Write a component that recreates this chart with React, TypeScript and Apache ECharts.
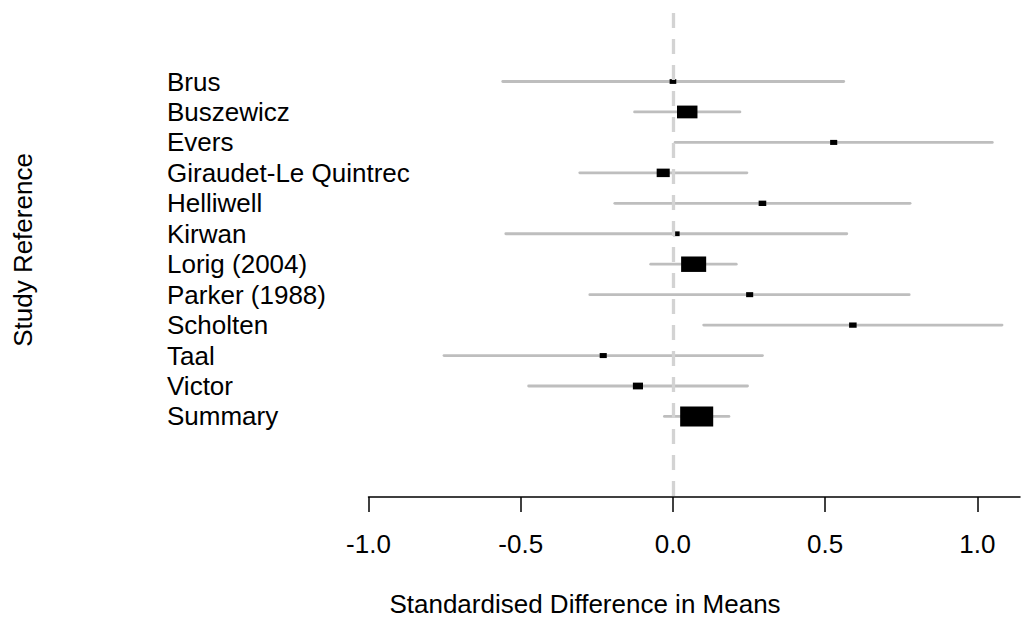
import React, { useEffect, useRef } from "react";
import * as echarts from "echarts";

// ---- data ----
const studies = [
  "Brus",
  "Buszewicz",
  "Evers",
  "Giraudet-Le Quintrec",
  "Helliwell",
  "Kirwan",
  "Lorig (2004)",
  "Parker (1988)",
  "Scholten",
  "Taal",
  "Victor",
  "Summary",
];
const estimates = [0.0, 0.047, 0.528, -0.032, 0.294, 0.011, 0.068, 0.252, 0.591, -0.229, -0.115, 0.078];
const lowerCI = [-0.559, -0.126, 0.007, -0.306, -0.191, -0.549, -0.073, -0.273, 0.101, -0.752, -0.474, -0.028];
const upperCI = [0.561, 0.22, 1.049, 0.243, 0.779, 0.571, 0.208, 0.776, 1.081, 0.294, 0.245, 0.184];
const xTicks = [-1.0, -0.5, 0.0, 0.5, 1.0];
const xAxisTitle = "Standardised Difference in Means";
const yAxisTitle = "Study Reference";

const FONT = "'Liberation Sans', Arial, Helvetica, sans-serif";

export default function App() {
  const ref = useRef<HTMLDivElement>(null);

  useEffect(() => {
    document.body.style.margin = "0";
    if (!ref.current) return;
    const chart = echarts.init(ref.current, null, { renderer: "svg" });

    const rows = studies.map((_, i) => [i, estimates[i], lowerCI[i], upperCI[i]]);
    const rowIdx = studies.map((_, i) => i);

    chart.setOption({
      animation: false,
      backgroundColor: "#ffffff",
      textStyle: { fontFamily: FONT },
      grid: { left: 368.5, right: 7, top: 13, bottom: 123, containLabel: false },
      xAxis: {
        type: "value",
        min: -1,
        max: 1.14,
        splitLine: { show: false },
        axisLine: { show: true, onZero: false, lineStyle: { color: "#000", width: 1.5 } },
        axisTick: {
          show: true,
          length: 15,
          customValues: xTicks,
          lineStyle: { color: "#000", width: 1.5 },
        },
        axisLabel: {
          customValues: xTicks,
          formatter: (v: number) => v.toFixed(1),
          fontSize: 26,
          color: "#000",
          fontFamily: FONT,
          margin: 34,
        },
      },
      yAxis: {
        type: "value",
        inverse: true,
        min: -2.25,
        max: 13.645,
        splitLine: { show: false },
        axisLine: { show: false },
        axisTick: { show: false },
        axisLabel: {
          customValues: rowIdx,
          formatter: (v: number) => studies[Math.round(v)] ?? "",
          align: "left",
          margin: 201.5,
          fontSize: 26,
          color: "#000",
          fontFamily: FONT,
        },
      },
      graphic: [
        {
          type: "text",
          x: 23,
          y: 250,
          rotation: Math.PI / 2,
          style: {
            text: yAxisTitle,
            fontSize: 26,
            fontFamily: FONT,
            fill: "#000",
            textAlign: "center",
            textVerticalAlign: "middle",
          },
        },
        {
          type: "text",
          x: 585,
          y: 604,
          style: {
            text: xAxisTitle,
            fontSize: 26,
            fontFamily: FONT,
            fill: "#000",
            textAlign: "center",
            textVerticalAlign: "middle",
          },
        },
      ],
      series: [
        {
          type: "line",
          data: [],
          z: 1,
          markLine: {
            silent: true,
            symbol: "none",
            label: { show: false },
            lineStyle: { color: "#d3d3d3", width: 3.3, type: [15, 11] },
            data: [{ xAxis: 0 }],
          },
        },
        {
          type: "custom",
          z: 2,
          data: rows,
          encode: { x: [1, 2, 3], y: 0 },
          renderItem: (_params: any, api: any) => {
            const i = api.value(0);
            const est = api.value(1);
            const lo = api.value(2);
            const hi = api.value(3);
            const pLo = api.coord([lo, i]);
            const pHi = api.coord([hi, i]);
            const pE = api.coord([est, i]);
            const hw = (hi - lo) / 2;
            const base = 3.45 / hw;
            const w = base + 0.5;
            const h = 0.58 * base + 1.2;
            return {
              type: "group",
              children: [
                {
                  type: "line",
                  shape: { x1: pLo[0], y1: pLo[1], x2: pHi[0], y2: pHi[1] },
                  style: { stroke: "#bebebe", lineWidth: 2.8, lineCap: "round" },
                },
                {
                  type: "rect",
                  shape: { x: pE[0] - w / 2, y: pE[1] - h / 2, width: w, height: h },
                  style: { fill: "#000" },
                },
              ],
            };
          },
        },
      ],
    });

    return () => chart.dispose();
  }, []);

  return <div ref={ref} style={{ width: 1027, height: 620 }} />;
}
